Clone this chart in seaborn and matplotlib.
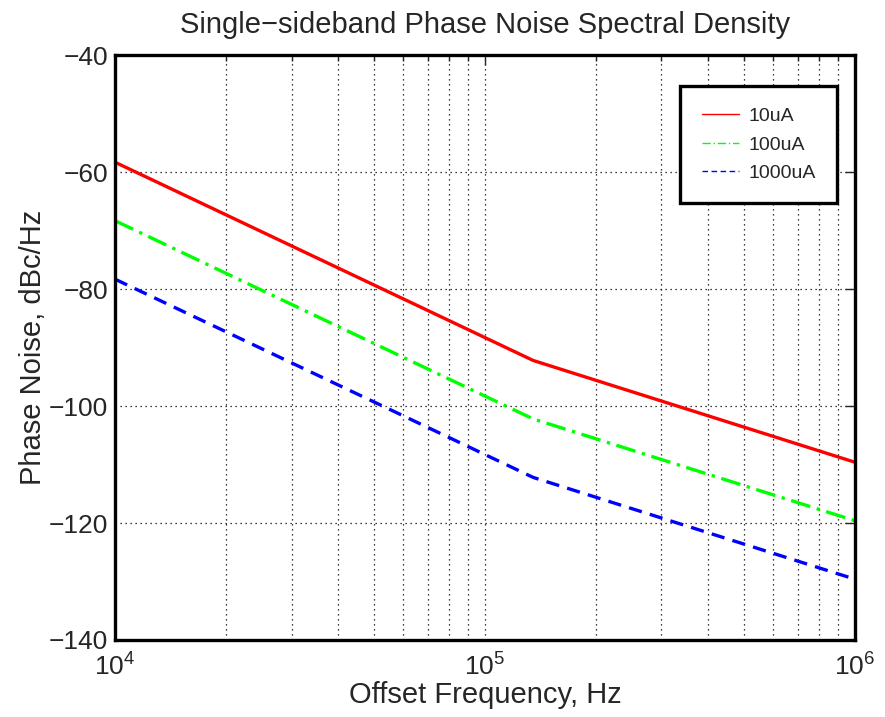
import numpy as np
import pandas as pd
import matplotlib
matplotlib.use("Agg")
import matplotlib.pyplot as plt
import seaborn as sns

# Data
freq = [1e4, 1.35e5, 1e6]
pn_10uA = [-58.3, -92.2, -109.6]
pn_100uA = [-68.3, -102.2, -119.6]
pn_1000uA = [-78.3, -112.2, -129.6]
labels = ["10uA", "100uA", "1000uA"]

df = pd.DataFrame({
    "freq": freq * 3,
    "pn": pn_10uA + pn_100uA + pn_1000uA,
    "bias": [labels[0]] * 3 + [labels[1]] * 3 + [labels[2]] * 3,
})

sns.set_style("white")
plt.rcParams["font.family"] = ["Liberation Sans", "DejaVu Sans"]
plt.rcParams["mathtext.fontset"] = "custom"
plt.rcParams["mathtext.rm"] = "Liberation Sans"
plt.rcParams["mathtext.it"] = "Liberation Sans"
plt.rcParams["mathtext.default"] = "regular"
plt.rcParams["xtick.direction"] = "in"
plt.rcParams["ytick.direction"] = "in"

fig = plt.figure(figsize=(8.85, 7.17), dpi=100)
ax = fig.add_axes([0.130, 0.1074, 0.836, 0.8156])

palette = {"10uA": "#ff0000", "100uA": "#00ff00", "1000uA": "#0000ff"}
dashes = {"10uA": "", "100uA": (6, 2, 1, 2), "1000uA": (4, 2.5)}
sns.lineplot(data=df, x="freq", y="pn", hue="bias", style="bias",
             palette=palette, dashes=dashes, linewidth=2.4, ax=ax)

ax.set_xscale("log")
ax.set_xlim(1e4, 1e6)
ax.set_ylim(-140, -40)
ax.set_yticks(np.arange(-140, -39, 20))
ax.set_xticks([1e4, 1e5, 1e6])
ax.set_xticklabels(["$10^{4}$", "$10^{5}$", "$10^{6}$"])
ax.grid(True, which="major", linestyle=(0, (1, 3)), color="black", linewidth=0.9)
ax.grid(True, which="minor", axis="x", linestyle=(0, (1, 3)), color="black", linewidth=0.9)

ax.tick_params(which="both", top=True, right=True, labelsize=19)
ax.tick_params(axis="x", pad=10)
ax.tick_params(axis="y", pad=5)
ax.tick_params(which="major", length=7, width=1)
ax.tick_params(which="minor", length=4, width=1)
for s in ax.spines.values():
    s.set_linewidth(2.4)
    s.set_color("black")

ax.set_title("Single\u2212sideband Phase Noise Spectral Density", fontsize=21, pad=16)
ax.set_xlabel("Offset Frequency, Hz", fontsize=21, labelpad=0)
ax.set_ylabel("Phase Noise, dBc/Hz", fontsize=21, labelpad=1)

leg = ax.legend(loc="upper right", bbox_to_anchor=(0.976, 0.947), fontsize=14,
                fancybox=False, framealpha=1, edgecolor="black",
                handlelength=1.9, handletextpad=0.5, borderpad=1.1,
                labelspacing=0.55, borderaxespad=0)
leg.get_frame().set_linewidth(2.4)
for h in leg.get_lines():
    h.set_linewidth(1)

plt.savefig("out.png", dpi=100)
